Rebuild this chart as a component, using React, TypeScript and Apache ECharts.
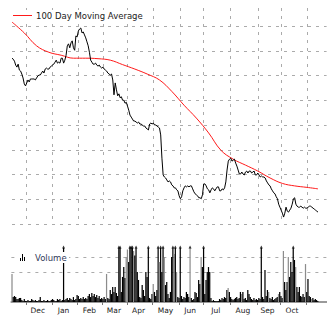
import React, { useEffect, useRef } from "react";
import * as echarts from "echarts";

// ---- data ----
const monthNames = ["Nov", "Dec", "Jan", "Feb", "Mar", "Apr", "May", "Jun", "Jul", "Aug", "Sep", "Oct", "Nov"];
const monthTradingDays = [12, 21, 21, 20, 20, 21, 22, 19, 22, 22, 19, 21, 17];

const price = [
  43.5, 43.3, 42.9, 42.1, 41.7, 42.3, 41.1, 40.9, 40.3, 39.5,
  38.3, 37.9, 38.5, 39.1, 38.7, 39.3, 39.3, 39.3, 39.3, 39.1,
  39.5, 39.9, 40.1, 40.1, 40.5, 40.9, 40.5, 41.3, 41.5, 41.3,
  41.3, 41.7, 41.9, 42.1, 42.3, 42.7, 43.1, 42.5, 42.7, 42.5,
  43.5, 43.5, 42.5, 43.1, 44.1, 46.0, 46.4, 45.6, 46.6, 47.0,
  45.6, 45.1, 48.0, 47.8, 49.0, 49.4, 49.6, 48.6, 48.8, 48.2,
  47.6, 46.8, 46.0, 44.7, 43.1, 42.7, 42.3, 42.3, 42.5, 42.1,
  41.9, 42.1, 41.7, 41.5, 41.7, 41.3, 41.1, 40.9, 40.5, 40.3,
  40.1, 40.3, 39.1, 36.1, 38.5, 37.1, 35.9, 36.3, 35.5, 35.7,
  35.0, 35.0, 34.4, 34.6, 33.8, 33.0, 32.0, 31.6, 31.2, 30.8,
  30.8, 30.6, 30.4, 30.6, 30.2, 30.2, 30.0, 29.8, 29.8, 29.4,
  29.2, 29.0, 30.2, 30.4, 30.2, 30.4, 30.0, 30.0, 29.8, 29.6,
  29.4, 28.0, 23.3, 19.9, 19.5, 19.3, 18.9, 18.5, 18.7, 18.5,
  17.9, 17.7, 17.3, 17.3, 16.9, 16.7, 15.7, 15.1, 15.5, 16.7,
  17.3, 17.7, 17.5, 17.7, 17.5, 17.7, 17.7, 17.1, 16.5, 16.1,
  15.9, 15.7, 15.3, 15.3, 15.1, 15.9, 18.1, 18.1, 17.7, 17.1,
  16.9, 16.3, 16.9, 17.3, 17.1, 16.7, 17.1, 17.5, 17.5, 16.7,
  16.7, 17.1, 16.9, 17.3, 18.5, 20.9, 22.7, 23.1, 23.3, 22.7,
  22.9, 23.1, 22.3, 21.7, 20.9, 20.1, 20.1, 20.5, 20.1, 19.9,
  20.5, 20.7, 20.3, 20.7, 20.7, 20.3, 20.5, 20.7, 19.9, 19.9,
  20.3, 19.9, 19.5, 19.7, 19.5, 19.5, 19.3, 18.7, 18.3, 17.9,
  17.7, 17.1, 16.7, 16.3, 16.1, 15.5, 15.1, 14.0, 13.4, 12.8,
  12.2, 11.4, 12.2, 13.4, 12.6, 12.4, 12.8, 13.2, 14.0, 15.1,
  15.3, 14.0, 13.6, 13.4, 13.4, 13.6, 13.4, 13.2, 13.4, 13.2,
  13.2, 13.4, 13.6, 13.6, 13.4, 13.2, 13.0, 12.8, 12.6, 12.4,
];

const maDays = [0, 10, 20, 30, 40, 50, 60, 70, 80, 90, 100, 110, 120, 130, 140, 150, 160, 170, 180, 190, 200, 210, 220, 230, 240, 249];
const maValues = [50.8, 48.6, 46.0, 44.7, 44.1, 43.5, 43.5, 43.4, 43.1, 42.2, 41.3, 40.3, 39.1, 36.8, 34.0, 31.4, 28.4, 24.9, 23.1, 21.9, 20.7, 19.3, 18.2, 17.7, 17.4, 17.1];

const volume = [
  1.87, 0.33, 0.4, 0.33, 0.2, 0.2, 0.27, 0.27, 0.13, 0.07,
  0.2, 0.07, 0.07, 0.13, 0.07, 0.07, 0.2, 0.13, 0.07, 0.13,
  0.07, 0.07, 0.13, 0.33, 0.07, 0.07, 0.13, 0.07, 0.07, 0.13,
  0.07, 0.07, 0.13, 0.2, 0.13, 0.07, 0.07, 0.2, 0.13, 0.2,
  0.07, 0.13, 4.6, 0.13, 0.2, 0.27, 0.13, 0.27, 0.2, 0.13,
  0.33, 0.13, 0.2, 0.47, 0.4, 0.2, 0.27, 0.2, 0.33, 0.2,
  0.27, 0.2, 0.4, 0.53, 0.33, 0.6, 0.4, 0.53, 0.33, 0.47,
  0.27, 0.4, 0.2, 0.27, 0.2, 0.33, 0.2, 1.87, 0.27, 0.2,
  0.8, 0.53, 1.0, 0.67, 1.0, 0.6, 0.4, 4.2, 5.1, 0.67,
  1.67, 2.33, 1.6, 3.0, 3.5, 2.67, 5.8, 6.3, 4.9, 3.4,
  3.1, 4.4, 2.0, 1.47, 0.33, 0.27, 1.13, 0.8, 0.4, 2.0,
  1.67, 4.7, 0.27, 0.2, 0.53, 1.2, 0.67, 0.4, 0.8, 4.5,
  2.67, 5.2, 2.0, 4.3, 3.0, 1.13, 1.33, 0.53, 0.27, 0.67,
  3.0, 4.6, 3.2, 4.0, 2.0, 0.33, 0.27, 4.4, 0.4, 0.2,
  0.33, 0.27, 0.67, 0.53, 0.33, 3.9, 0.27, 0.13, 0.2, 0.67,
  0.6, 0.33, 1.47, 1.2, 3.0, 2.33, 4.8, 0.53, 1.47, 2.0,
  2.33, 2.0, 0.27, 0.07, 0.13, 0.07, 0.07, 0.07, 0.07, 0.2,
  0.13, 0.27, 0.2, 0.33, 0.27, 0.8, 0.93, 0.67, 0.33, 0.2,
  0.13, 0.2, 0.27, 0.33, 0.2, 0.27, 0.67, 0.53, 0.67, 0.2,
  0.27, 0.13, 0.8, 0.53, 0.33, 0.2, 0.13, 0.27, 0.13, 0.2,
  0.13, 0.27, 0.2, 4.1, 0.33, 0.2, 2.13, 0.4, 0.8, 0.67,
  0.27, 0.2, 0.33, 0.13, 0.2, 0.27, 0.33, 0.53, 0.67, 0.4,
  0.27, 3.4, 1.33, 0.8, 1.33, 3.0, 1.67, 2.67, 2.0, 4.4,
  2.8, 2.33, 1.0, 0.67, 1.0, 0.4, 0.33, 0.53, 0.33, 2.53,
  0.67, 1.53, 0.4, 0.33, 0.2, 0.27, 0.13, 0.2, 0.13, 0.07,
];
const grayVolumeDays = [0, 77, 93, 94, 99, 115, 120, 124, 132, 134, 145, 154, 176, 187, 209, 217, 221, 225, 231, 239, 244];

const priceMin = 10;
const priceMax = 53.64;
const priceStep = 5;
const volumeMax = 3.6;
const volumeStep = 1;

// ---- derived category axis ----
const categories: string[] = [];
const monthStarts = new Set<number>();
const labelDays = new Set<number>();
monthNames.forEach((m, mi) => {
  const start = categories.length;
  const n = monthTradingDays[mi];
  if (mi > 0) monthStarts.add(start);
  if (mi > 0 && mi < monthNames.length - 1) labelDays.add(start + Math.floor(n / 2) - 1);
  for (let k = 0; k < n; k++) categories.push(`${m} ${mi}-${k + 1}`);
});

const GRID = "#ababab";
const DASH = [3, 5];
const FONT = "DejaVu Sans";

export default function App() {
  const ref = useRef<HTMLDivElement>(null);
  useEffect(() => {
    if (!ref.current) return;
    const chart = echarts.init(ref.current, undefined, { renderer: "svg" });
    const graySet = new Set(grayVolumeDays);
    const priceLines = Array.from({ length: 10 }, (_, i) => (i === 9 ? "transparent" : GRID));
    const volLines = ["transparent", GRID, GRID, GRID, "transparent"];
    const clipped = volume
      .map((v, i) => (v > volumeMax ? [i, volumeMax] : null))
      .filter((d) => d !== null);

    chart.setOption({
      animation: false,
      backgroundColor: "#fff",
      grid: [
        { left: 12, top: 8, width: 314.6, height: 216 },
        { left: 11.39, top: 248, width: 315.9, height: 54 },
      ],
      xAxis: [
        {
          type: "category",
          gridIndex: 0,
          data: categories,
          boundaryGap: false,
          axisLine: { show: false },
          axisTick: { show: false },
          axisLabel: { show: false },
          splitLine: {
            show: true,
            interval: (i: number) => monthStarts.has(i),
            lineStyle: { color: GRID, type: DASH, width: 1 },
          },
        },
        {
          type: "category",
          gridIndex: 1,
          data: categories,
          boundaryGap: true,
          axisLine: { show: true, lineStyle: { color: "#9a9a9a", width: 2 } },
          axisTick: {
            show: true,
            interval: (i: number) => monthStarts.has(i),
            length: 3,
            lineStyle: { color: "#777", width: 1 },
          },
          axisLabel: {
            show: true,
            interval: (i: number) => labelDays.has(i),
            formatter: (v: string) => v.split(" ")[0],
            fontFamily: FONT,
            fontSize: 7.5,
            color: "#222",
            margin: 4,
          },
          splitLine: { show: false },
        },
      ],
      yAxis: [
        {
          type: "value",
          gridIndex: 0,
          min: priceMin,
          max: priceMax,
          interval: priceStep,
          axisLine: { show: false },
          axisTick: { show: false },
          axisLabel: { show: false },
          splitLine: {
            show: true,
            showMaxLine: false,
            lineStyle: { color: priceLines, type: DASH, width: 1 },
          },
        },
        {
          type: "value",
          gridIndex: 1,
          min: 0,
          max: volumeMax,
          interval: volumeStep,
          axisLine: { show: false },
          axisTick: { show: false },
          axisLabel: { show: false },
          splitLine: {
            show: true,
            showMaxLine: false,
            showMinLine: false,
            lineStyle: { color: volLines, type: DASH, width: 1 },
          },
        },
      ],
      series: [
        {
          type: "line",
          name: "Price",
          xAxisIndex: 0,
          yAxisIndex: 0,
          data: price,
          symbol: "none",
          lineStyle: { color: "#000", width: 1 },
          z: 3,
        },
        {
          type: "line",
          name: "100 Day Moving Average",
          xAxisIndex: 0,
          yAxisIndex: 0,
          data: maDays.map((d, i) => [d, maValues[i]]),
          smooth: 0.4,
          symbol: "none",
          lineStyle: { color: "#ff1a1a", width: 1 },
          z: 2,
        },
        {
          type: "bar",
          name: "Volume",
          xAxisIndex: 1,
          yAxisIndex: 1,
          barCategoryGap: "0%",
          data: volume.map((v, i) => ({
            value: v,
            itemStyle: { color: graySet.has(i) ? "#8c8c8c" : "#000" },
          })),
        },
        {
          type: "scatter",
          xAxisIndex: 1,
          yAxisIndex: 1,
          data: clipped,
          symbol: "triangle",
          symbolSize: [3, 3],
          symbolOffset: [0, -1],
          clip: false,
          itemStyle: { color: "#000" },
          z: 5,
        },
      ],
      graphic: [
        { type: "rect", z: 100, shape: { x: 10, y: 10, width: 140, height: 11 }, style: { fill: "#fff" } },
        { type: "line", z: 101, shape: { x1: 13, y1: 15.5, x2: 32, y2: 15.5 }, style: { stroke: "#ff1a1a", lineWidth: 1 } },
        {
          type: "text",
          z: 101,
          x: 36,
          y: 15.5,
          style: { text: "100 Day Moving Average", fontFamily: FONT, fontSize: 8.5, fill: "#222", verticalAlign: "middle" },
        },
        { type: "rect", z: 100, shape: { x: 17, y: 252, width: 52, height: 11 }, style: { fill: "#fff" } },
        { type: "rect", z: 101, shape: { x: 20, y: 258, width: 1, height: 3 }, style: { fill: "#000" } },
        { type: "rect", z: 101, shape: { x: 22, y: 254, width: 1, height: 7 }, style: { fill: "#000" } },
        { type: "rect", z: 101, shape: { x: 24, y: 257, width: 1, height: 4 }, style: { fill: "#000" } },
        {
          type: "text",
          z: 101,
          x: 35,
          y: 258,
          style: { text: "Volume", fontFamily: FONT, fontSize: 8.5, fill: "#2f3a5a", verticalAlign: "middle" },
        },
      ],
    });
    return () => chart.dispose();
  }, []);
  return (
    <div
      ref={ref}
      style={{ position: "fixed", left: 0, top: 0, width: 327, height: 315, background: "#fff" }}
    />
  );
}
